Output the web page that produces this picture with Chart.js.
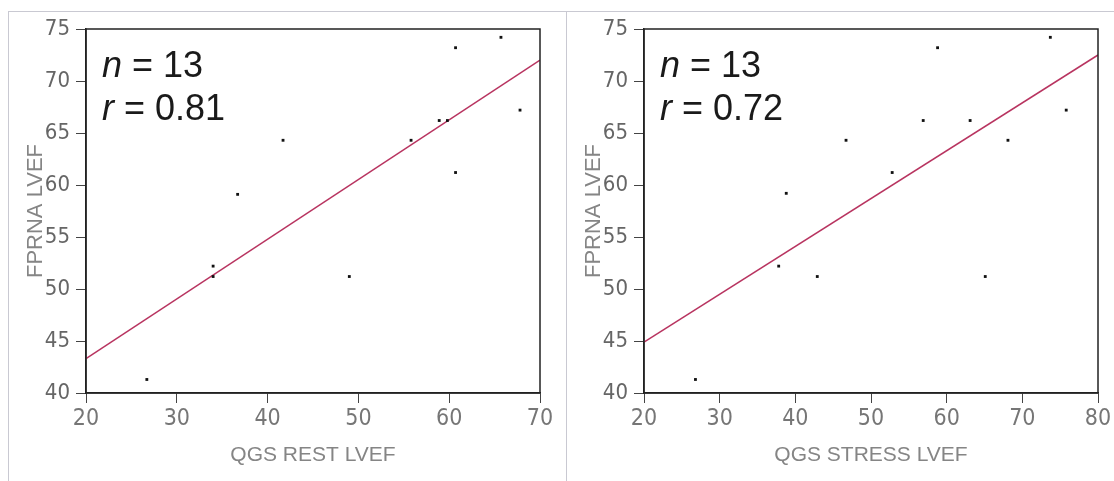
<!DOCTYPE html>
<html>
<head>
<meta charset="utf-8">
<script src="https://cdn.jsdelivr.net/npm/chart.js@4"></script>
<style>
    html, body { margin: 0; padding: 0; background: #fff; }
    body { width: 1114px; height: 481px; position: relative; overflow: hidden; }
    .frame { position: absolute; background: #c9c9d2; }
    canvas { position: absolute; top: 0; }
</style>
</head>
<body>
<div class="frame" style="left:8px; top:11px; width:1106px; height:1px;"></div>
<div class="frame" style="left:8px; top:11px; width:1px; height:470px;"></div>
<div class="frame" style="left:566px; top:11px; width:1px; height:470px;"></div>
<canvas id="restChart" style="left:0px;"></canvas>
<canvas id="stressChart" style="left:563px;"></canvas>
<script>
// Values
const restX = [26.7, 34.0, 34.0, 36.7, 41.7, 49.0, 55.8, 58.9, 59.8, 60.7, 60.7, 65.7, 67.8];
const restY = [41.3, 52.2, 51.2, 59.1, 64.3, 51.2, 64.3, 66.2, 66.2, 73.2, 61.2, 74.2, 67.2];
const restFitX = [20, 70];
const restFitY = [43.3, 72.0];

const stressX = [26.8, 37.8, 38.8, 42.9, 46.7, 52.8, 56.9, 58.8, 63.1, 65.1, 68.1, 73.7, 75.8];
const stressY = [41.3, 52.2, 59.2, 51.2, 64.3, 61.2, 66.2, 73.2, 66.2, 51.2, 64.3, 74.2, 67.2];
const stressFitX = [20, 80];
const stressFitY = [44.9, 72.5];

const yTicks = [40, 45, 50, 55, 60, 65, 70, 75];
const restTicks = [20, 30, 40, 50, 60, 70];
const stressTicks = [20, 30, 40, 50, 60, 70, 80];

const nText = '13';
const restR = '0.81';
const stressR = '0.72';

const tickFont = "'Liberation Sans Narrow', 'DejaVu Sans Condensed', sans-serif";
const labelFont = "'Liberation Sans', Arial, sans-serif";

function toPoints(xs, ys) {
    return xs.map((x, i) => ({ x: x, y: ys[i] }));
}

// frame around plot area + the n / r annotation
const boxPlugin = {
    id: 'box',
    afterDraw(chart, args, opts) {
        const a = chart.chartArea;
        const ctx = chart.ctx;
        ctx.save();
        ctx.strokeStyle = '#222';
        ctx.lineWidth = 1.5;
        ctx.strokeRect(a.left, a.top, a.right - a.left, a.bottom - a.top);

        ctx.fillStyle = '#1a1a1a';
        ctx.textBaseline = 'alphabetic';
        const x0 = a.left + 16;
        ctx.font = 'italic 36px ' + labelFont;
        ctx.fillText('n', x0, 77);
        let w = ctx.measureText('n').width;
        ctx.font = '36px ' + labelFont;
        ctx.fillText(' = ' + nText, x0 + w, 77);

        ctx.font = 'italic 36px ' + labelFont;
        ctx.fillText('r', x0, 120);
        w = ctx.measureText('r').width;
        ctx.font = '36px ' + labelFont;
        ctx.fillText(' = ' + opts.r, x0 + w, 120);
        ctx.restore();
    }
};

function makePanel(id, width, pad, yWidth, yTitlePad, xs, ys, fitX, fitY, xTicks, xTitle, rText) {
    const canvas = document.getElementById(id);
    canvas.width = width;
    canvas.height = 481;
    canvas.style.width = width + 'px';
    canvas.style.height = '481px';

    return new Chart(canvas, {
        type: 'scatter',
        data: {
            datasets: [{
                data: toPoints(xs, ys),
                pointStyle: 'rect',
                pointRadius: 2,
                backgroundColor: '#111',
                borderColor: '#111',
                borderWidth: 0
            }, {
                type: 'line',
                data: toPoints(fitX, fitY),
                borderColor: '#b83460',
                borderWidth: 1.5,
                pointRadius: 0,
                fill: false
            }]
        },
        options: {
            responsive: false,
            animation: false,
            layout: { padding: pad, autoPadding: false },
            plugins: {
                legend: { display: false },
                tooltip: { enabled: false },
                box: { r: rText }
            },
            scales: {
                x: {
                    type: 'linear',
                    min: xTicks[0],
                    max: xTicks[xTicks.length - 1],
                    afterBuildTicks: s => { s.ticks = xTicks.map(v => ({ value: v })); },
                    afterFit: s => { s.height = 80; },
                    border: { display: true, color: '#222', width: 1.5 },
                    grid: { drawOnChartArea: false, drawTicks: true, tickLength: 10, color: '#444', lineWidth: 1 },
                    ticks: { color: '#767676', padding: 2, font: { family: tickFont, size: 23 } },
                    title: {
                        display: true,
                        text: xTitle,
                        color: '#858585',
                        padding: { top: 0, bottom: 5 },
                        font: { family: labelFont, size: 21 }
                    }
                },
                y: {
                    type: 'linear',
                    min: 40,
                    max: 75,
                    afterBuildTicks: s => { s.ticks = yTicks.map(v => ({ value: v })); },
                    afterFit: s => { s.width = yWidth; },
                    border: { display: true, color: '#222', width: 1.5 },
                    grid: { drawOnChartArea: false, drawTicks: true, tickLength: 10, color: '#444', lineWidth: 1 },
                    ticks: { color: '#666', padding: 6, font: { family: tickFont, size: 22 } },
                    title: {
                        display: true,
                        text: 'FPRNA LVEF',
                        color: '#858585',
                        padding: { top: yTitlePad, bottom: 0 },
                        font: { family: labelFont, size: 22 }
                    }
                }
            }
        },
        plugins: [boxPlugin]
    });
}

makePanel('restChart', 563, { left: 18, right: 23, top: 29, bottom: 8 }, 68, 5,
    restX, restY, restFitX, restFitY, restTicks, 'QGS REST LVEF', restR);
makePanel('stressChart', 551, { left: 14, right: 16, top: 29, bottom: 8 }, 67, 4,
    stressX, stressY, stressFitX, stressFitY, stressTicks, 'QGS STRESS LVEF', stressR);
</script>
</body>
</html>
